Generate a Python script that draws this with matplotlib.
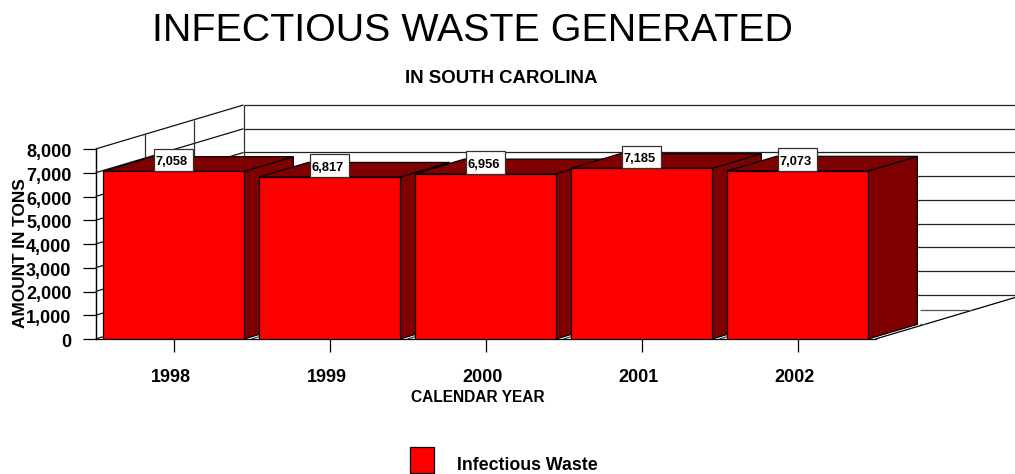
import matplotlib
matplotlib.use('Agg')
import matplotlib.pyplot as plt
from matplotlib.patches import Patch, Rectangle
from matplotlib.transforms import ScaledTranslation

years = ['1998', '1999', '2000', '2001', '2002']
waste = [7058, 6817, 6956, 7185, 7073]
yticks = [0, 1000, 2000, 3000, 4000, 5000, 6000, 7000, 8000]

plt.rcParams['font.family'] = ['Liberation Sans', 'DejaVu Sans']

W, H = 1015, 474
fig = plt.figure(figsize=(W / 100, H / 100), dpi=100)
ax = fig.add_axes([95.5 / W, (H - 339) / H, (W - 95.5) / W, 190 / H])

# depth of the fake 3d box, in data units
dx_full = 0.949
dy_full = 1853
bar_w = 0.904
lw = 0.9

ax.set_ylim(0, 8000)
ax.set_xlim(-0.5, -0.5 + (W - 95.5) / 156)
x0, x1 = -0.5, 4.5
far = x1 + 1.2


def line(xs, ys, c='black', z=1):
    ax.plot(xs, ys, color=c, lw=lw, clip_on=False, zorder=z, solid_capstyle='butt')


# back wall and side wall
for v in yticks:
    line([x0 + dx_full, far + 1], [v + dy_full, v + dy_full], '#222222')
    line([x0, x0 + dx_full], [v, v + dy_full], '#111111')
for d in [0, 1 / 3, 2 / 3, 1]:
    line([x0 + d * dx_full] * 2, [d * dy_full, 8000 + d * dy_full], '#333333')

# floor
line([x1, x1 + dx_full * 1.05], [0, dy_full * 1.05])
line([x1 + dx_full * 0.3, x1 + dx_full * 0.33], [dy_full / 3, dy_full / 3], '#555555')
line([x1 + dx_full * 0.3, x1 + dx_full * 0.66], [dy_full * 2 / 3, dy_full * 2 / 3], '#555555')
for i in range(4):
    line([i + 0.5, i + 0.5 + dx_full / 3], [0, dy_full / 3], '#444444')

# bars, left to right so each one hides the side of the last
for i, v in enumerate(waste):
    l, r = i - bar_w / 2, i + bar_w / 2
    ddx, ddy = dx_full / 3, dy_full / 3
    ax.fill([r, r + ddx, r + ddx, r], [0, ddy, v + ddy, v], facecolor='#7f0000',
            edgecolor='black', lw=lw, clip_on=False, zorder=2 + i)
    ax.fill([l, l + ddx, r + ddx, r], [v, v + ddy, v + ddy, v], facecolor='#7f0000',
            edgecolor='black', lw=lw, clip_on=False, zorder=2 + i)
    ax.bar(i, v, width=bar_w, color='#ff0000', edgecolor='black', lw=lw, zorder=2 + i)

# value boxes sit on the front top edge of each bar
for i, v in enumerate(waste):
    ax.add_patch(Rectangle((i - 0.125, v), 0.25, 960, fc='white', ec='#333333', lw=lw,
                           clip_on=False, zorder=9))
    ax.annotate(f'{v:,}', (i - 0.125, v), xytext=(1.2, 6.4), textcoords='offset points',
                ha='left', va='center', fontsize=9.3, fontweight='bold', zorder=10)

for s in ['top', 'right']:
    ax.spines[s].set_visible(False)
ax.spines['left'].set_bounds(0, 8000)
ax.spines['bottom'].set_bounds(x0, x1)
ax.spines['left'].set_linewidth(lw)
ax.spines['bottom'].set_linewidth(lw)
ax.patch.set_visible(False)

ax.set_yticks(yticks)
ax.set_yticklabels([f'{v:,}' for v in yticks], fontsize=13, fontweight='bold')
ax.set_xticks(range(len(years)))
ax.set_xticklabels(years, fontsize=13, fontweight='bold')
ax.tick_params(axis='y', length=9.4, width=lw, pad=8)
ax.tick_params(axis='x', length=9.4, width=lw, pad=12)
nudge = ScaledTranslation(-3 / 100, 0, fig.dpi_scale_trans)
for t in ax.get_xticklabels():
    t.set_transform(t.get_transform() + nudge)
nudge_y = ScaledTranslation(0, -1.5 / 100, fig.dpi_scale_trans)
for t in ax.get_yticklabels():
    t.set_transform(t.get_transform() + nudge_y)

ax.set_ylabel('AMOUNT IN TONS', fontsize=12.4, fontweight='bold', rotation=90, va='center')
ax.yaxis.set_label_coords((21 - 95.5) / (W - 95.5), (339 - 253.5) / 190)
ax.set_xlabel('CALENDAR YEAR', fontsize=11.2, fontweight='bold', va='center')
ax.xaxis.set_label_coords((478 - 95.5) / (W - 95.5), (339 - 397) / 190)

fig.text(472 / W, 1 - 31 / H, 'INFECTIOUS WASTE GENERATED', ha='center', va='center', fontsize=28.4)
fig.text(501.5 / W, 1 - 78.5 / H, 'IN SOUTH CAROLINA', ha='center', va='center', fontsize=13.4, fontweight='bold')

leg = fig.legend(handles=[Patch(facecolor='#ff0000', edgecolor='black', lw=lw, label='Infectious Waste')],
                 loc='center left', bbox_to_anchor=(396 / W, 1 - 460 / H), frameon=False,
                 handlelength=1.35, handleheight=1.8, handletextpad=1.3,
                 borderpad=0.3, prop={'size': 12.8, 'weight': 'bold'})
leg.get_texts()[0].set_y(-4)

fig.savefig('out.png', dpi=100)
